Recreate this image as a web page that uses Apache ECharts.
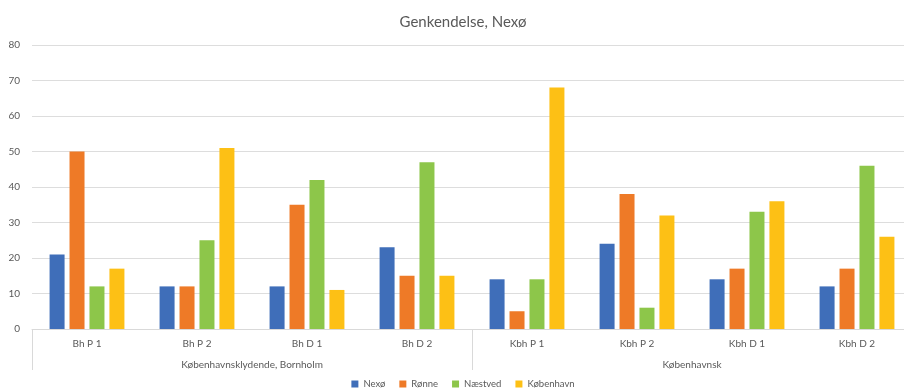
<!DOCTYPE html>
<html>
<head>
<meta charset="utf-8">
<script src="https://cdn.jsdelivr.net/npm/echarts@6/dist/echarts.min.js"></script>
<style>
  html, body { margin: 0; padding: 0; width: 904px; height: 391px; overflow: hidden; background: #fff; }
  #chart { width: 926px; height: 391px; }
</style>
</head>
<body>
<div id="chart"></div>
<script>
// Sub-categories (inner axis) and their groups (outer axis)
const categories = ['Bh P 1', 'Bh P 2', 'Bh D 1', 'Bh D 2', 'Kbh P 1', 'Kbh P 2', 'Kbh D 1', 'Kbh D 2'];
const groups = ['Københavnsklydende, Bornholm', 'Københavnsk'];
const seriesNames = ['Nexø', 'Rønne', 'Næstved', 'København'];

const nexo = [21, 12, 12, 23, 14, 24, 14, 12];
const ronne = [50, 12, 35, 15, 5, 38, 17, 17];
const naestved = [12, 25, 42, 47, 14, 6, 33, 46];
const kobenhavn = [17, 51, 11, 15, 68, 32, 36, 26];

const colors = ['#3F6EB9', '#EE7A27', '#8DC64A', '#FDC015'];
const font = 'Lato, "Open Sans", sans-serif';
const textColor = '#595959';

const chart = echarts.init(document.getElementById('chart'), null, { renderer: 'canvas' });

const values = [nexo, ronne, naestved, kobenhavn];

chart.setOption({
  animation: false,
  color: colors,
  title: {
    text: 'Genkendelse, Nexø',
    left: 'center',
    top: 10,
    textStyle: { fontFamily: font, fontSize: 15, fontWeight: 'normal', color: textColor }
  },
  legend: {
    bottom: -3,
    left: 'center',
    icon: 'rect',
    itemWidth: 7,
    itemHeight: 7,
    itemGap: 14,
    textStyle: { fontFamily: font, fontSize: 9.5, color: textColor },
    data: seriesNames
  },
  grid: { left: 32, right: 14, top: 45, height: 284 },
  xAxis: [
    {
      type: 'category',
      data: categories,
      position: 'bottom',
      axisLine: { lineStyle: { color: '#D9D9D9', width: 1 } },
      axisTick: { show: false },
      axisLabel: { fontFamily: font, fontSize: 10, color: textColor, margin: 10 }
    },
    {
      type: 'category',
      data: groups,
      position: 'bottom',
      axisLine: { show: false },
      axisTick: { show: true, length: 41, lineStyle: { color: '#D9D9D9' } },
      axisLabel: { fontFamily: font, fontSize: 10, color: textColor, margin: 31 },
      splitLine: { show: false }
    }
  ],
  yAxis: {
    type: 'value',
    min: 0,
    max: 80,
    interval: 10,
    axisLine: { show: false },
    axisTick: { show: false },
    axisLabel: { fontFamily: font, fontSize: 10, color: textColor, margin: 12 },
    splitLine: { lineStyle: { color: '#DDDDDD', width: 1 } }
  },
  series: seriesNames.map((name, i) => ({
    name: name,
    type: 'bar',
    xAxisIndex: 0,
    data: values[i],
    barWidth: 15,
    barGap: '33%',
    itemStyle: { color: colors[i] }
  }))
});
</script>
</body>
</html>
